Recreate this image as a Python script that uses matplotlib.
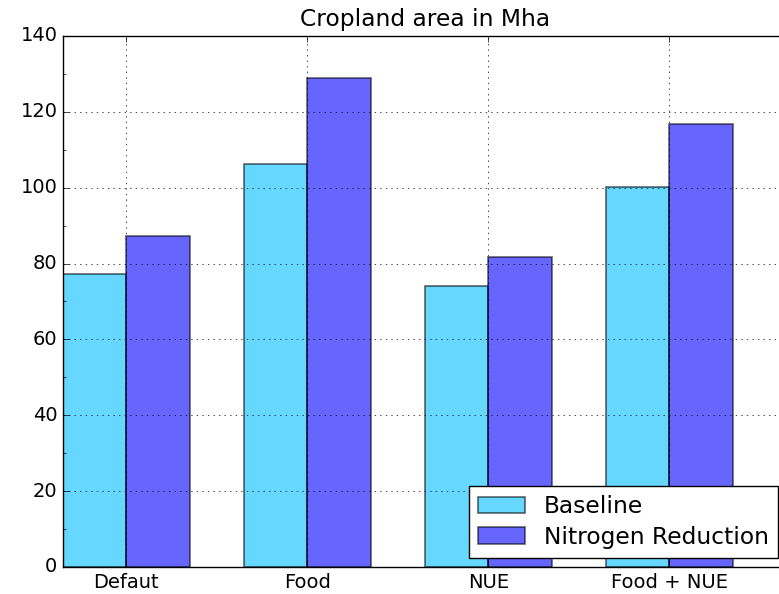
import numpy as np
import matplotlib
matplotlib.use("Agg")
import matplotlib.pyplot as plt
from matplotlib.ticker import MultipleLocator

plt.style.use('classic')

scenarios = ['Defaut', 'Food', 'NUE', 'Food + NUE']
baseline = [77.2, 106.2, 74.1, 100.2]
nitrogen_reduction = [87.3, 128.9, 81.7, 116.8]

index = np.arange(len(scenarios))
width = 0.35

fig = plt.figure(figsize=(7.79, 5.94), dpi=100, facecolor='white')
ax = fig.add_axes([0.0809, 0.0455, 0.9294, 0.8939])

ax.bar(index, baseline, width, align='edge', color='deepskyblue', alpha=0.6,
       linewidth=1.2, label='Baseline')
ax.bar(index + width, nitrogen_reduction, width, align='edge', color='blue', alpha=0.6,
       linewidth=1.2, label='Nitrogen Reduction')

ax.set_xlim(0, 4)
ax.set_ylim(0, 140)
ax.set_xticks(index + width)
ax.set_xticklabels(scenarios)
ax.tick_params(labelsize=14)
ax.yaxis.set_minor_locator(MultipleLocator(10))
ax.grid(True)
ax.set_title('Cropland area in Mha', fontsize=16.8, pad=7.5)
ax.legend(loc='lower right', fontsize=16.8, labelspacing=0.32, borderaxespad=0.38)

fig.savefig('out.png', dpi=100, facecolor='white')
